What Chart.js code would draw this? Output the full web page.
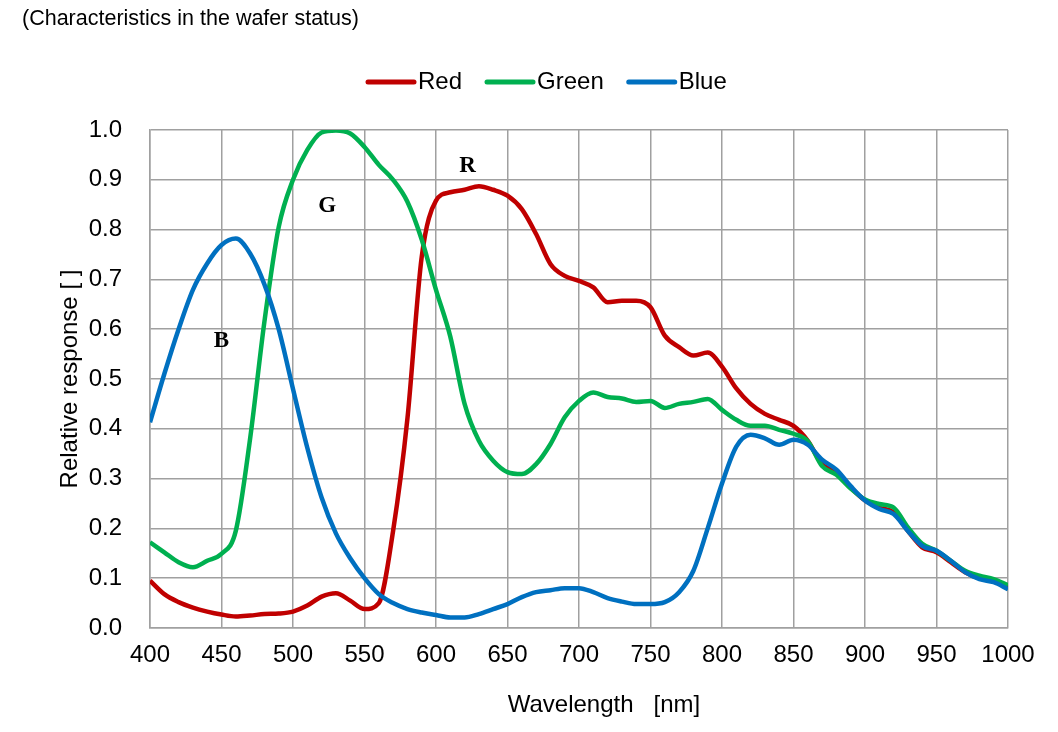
<!DOCTYPE html>
<html>
<head>
<meta charset="utf-8">
<script src="https://cdn.jsdelivr.net/npm/chart.js@4/dist/chart.umd.min.js"></script>
<style>
  html, body { margin: 0; padding: 0; background: #fff; }
  #wrap { width: 1058px; height: 732px; }
</style>
</head>
<body>
<div id="wrap"><canvas id="grafico" width="1058" height="732"></canvas></div>
<script>
// wavelengths (nm)
const comprimentos = [400, 410, 420, 430, 440, 450, 460, 470, 480, 490,
  500, 510, 520, 530, 540, 550, 560, 570, 580, 590,
  600, 610, 620, 630, 640, 650, 660, 670, 680, 690,
  700, 710, 720, 730, 740, 750, 760, 770, 780, 790,
  800, 810, 820, 830, 840, 850, 860, 870, 880, 890,
  900, 910, 920, 930, 940, 950, 960, 970, 980, 990, 1000];

const valoresRed = [0.095, 0.068, 0.052, 0.041, 0.033, 0.027, 0.023, 0.025, 0.028, 0.029,
  0.033, 0.045, 0.063, 0.070, 0.055, 0.038, 0.050, 0.195, 0.420, 0.745,
  0.858, 0.875, 0.880, 0.887, 0.880, 0.868, 0.841, 0.791, 0.731, 0.707,
  0.697, 0.684, 0.654, 0.657, 0.657, 0.644, 0.587, 0.564, 0.547, 0.553,
  0.525, 0.481, 0.450, 0.430, 0.418, 0.406, 0.376, 0.329, 0.313, 0.282,
  0.256, 0.242, 0.232, 0.195, 0.162, 0.152, 0.132, 0.112, 0.100, 0.094, 0.082];

const valoresGreen = [0.172, 0.152, 0.132, 0.122, 0.135, 0.149, 0.195, 0.380, 0.615, 0.805,
  0.900, 0.960, 0.995, 0.999, 0.993, 0.966, 0.930, 0.900, 0.856, 0.780,
  0.679, 0.585, 0.450, 0.376, 0.336, 0.313, 0.309, 0.329, 0.369, 0.423,
  0.456, 0.473, 0.464, 0.461, 0.454, 0.456, 0.442, 0.450, 0.454, 0.460,
  0.438, 0.418, 0.406, 0.406, 0.398, 0.390, 0.375, 0.325, 0.308, 0.280,
  0.258, 0.249, 0.242, 0.202, 0.169, 0.155, 0.135, 0.115, 0.105, 0.098, 0.086];

const valoresBlue = [0.413, 0.510, 0.600, 0.679, 0.732, 0.769, 0.782, 0.752, 0.690, 0.600,
  0.480, 0.362, 0.262, 0.190, 0.140, 0.100, 0.068, 0.050, 0.038, 0.031,
  0.026, 0.021, 0.021, 0.028, 0.038, 0.048, 0.062, 0.072, 0.076, 0.080,
  0.080, 0.072, 0.060, 0.053, 0.048, 0.048, 0.052, 0.072, 0.115, 0.200,
  0.290, 0.364, 0.388, 0.381, 0.368, 0.378, 0.368, 0.338, 0.318, 0.285,
  0.256, 0.239, 0.229, 0.195, 0.165, 0.155, 0.135, 0.112, 0.098, 0.092, 0.078];

const nomesSeries = ['Red', 'Green', 'Blue'];
const coresSeries = ['#c00000', '#00b050', '#0070c0'];

// curve labels R / G / B placed in data coordinates
const rotulos = [
  { texto: 'R', x: 622, y: 0.928 },
  { texto: 'G', x: 524, y: 0.847 },
  { texto: 'B', x: 450, y: 0.576 }
];

const FONTE = '"Liberation Sans", Arial, sans-serif';
const corGrade = '#a0a0a0';

function montarSerie(valores) {
  return comprimentos.map((c, i) => ({ x: c, y: valores[i] }));
}

const extras = {
  id: 'extras',
  afterDraw(chart) {
    const ctx = chart.ctx;
    const sx = chart.scales.x, sy = chart.scales.y;
    ctx.save();

    // top note
    ctx.fillStyle = '#000';
    ctx.font = '21.5px ' + FONTE;
    ctx.textAlign = 'left';
    ctx.textBaseline = 'middle';
    ctx.fillText('(Characteristics in the wafer status)', 22, 19);

    // legend
    ctx.font = '24px ' + FONTE;
    let x = 366;
    const yLeg = 82;
    chart.data.datasets.forEach(ds => {
      ctx.strokeStyle = ds.borderColor;
      ctx.lineWidth = 5;
      ctx.lineCap = 'round';
      ctx.beginPath();
      ctx.moveTo(x + 2, yLeg);
      ctx.lineTo(x + 48, yLeg);
      ctx.stroke();
      ctx.fillStyle = '#000';
      ctx.fillText(ds.label, x + 52, yLeg);
      x += 52 + ctx.measureText(ds.label).width + 23;
    });

    // x axis title
    ctx.textAlign = 'center';
    ctx.fillText('Wavelength   [nm]', 604, 705);

    // curve letters
    ctx.font = 'bold 23px "Liberation Serif", "Times New Roman", serif';
    rotulos.forEach(r => {
      ctx.fillText(r.texto, sx.getPixelForValue(r.x), sy.getPixelForValue(r.y));
    });
    ctx.restore();
  }
};

new Chart(document.getElementById('grafico').getContext('2d'), {
  type: 'line',
  data: {
    datasets: [
      { label: nomesSeries[0], data: montarSerie(valoresRed), borderColor: coresSeries[0], order: 3 },
      { label: nomesSeries[1], data: montarSerie(valoresGreen), borderColor: coresSeries[1], order: 2 },
      { label: nomesSeries[2], data: montarSerie(valoresBlue), borderColor: coresSeries[2], order: 1 }
    ]
  },
  options: {
    responsive: false,
    animation: false,
    layout: { padding: { left: 0, right: 50, top: 130, bottom: 0 } },
    elements: {
      line: { borderWidth: 4.5, cubicInterpolationMode: 'monotone', fill: false },
      point: { radius: 0, hoverRadius: 0 }
    },
    plugins: {
      legend: { display: false },
      tooltip: { enabled: false }
    },
    scales: {
      x: {
        type: 'linear',
        min: 400,
        max: 1000,
        afterFit: s => { s.height = 104; },
        ticks: {
          stepSize: 50,
          color: '#000',
          font: { family: FONTE, size: 24 },
          padding: 13,
          maxRotation: 0,
          callback: v => String(v)
        },
        grid: { color: corGrade, lineWidth: 1.5, drawTicks: false },
        border: { color: corGrade, width: 1.5 }
      },
      y: {
        min: 0,
        max: 1,
        afterFit: s => { s.width = 150; },
        ticks: {
          stepSize: 0.1,
          color: '#000',
          font: { family: FONTE, size: 24 },
          padding: 28,
          callback: v => v.toFixed(1)
        },
        grid: { color: corGrade, lineWidth: 1.5, drawTicks: false },
        border: { color: corGrade, width: 1.5 },
        title: {
          display: true,
          text: 'Relative response [ ]',
          color: '#000',
          font: { family: FONTE, size: 24 },
          padding: { top: 56, bottom: 0 }
        }
      }
    }
  },
  plugins: [extras]
});
</script>
</body>
</html>
